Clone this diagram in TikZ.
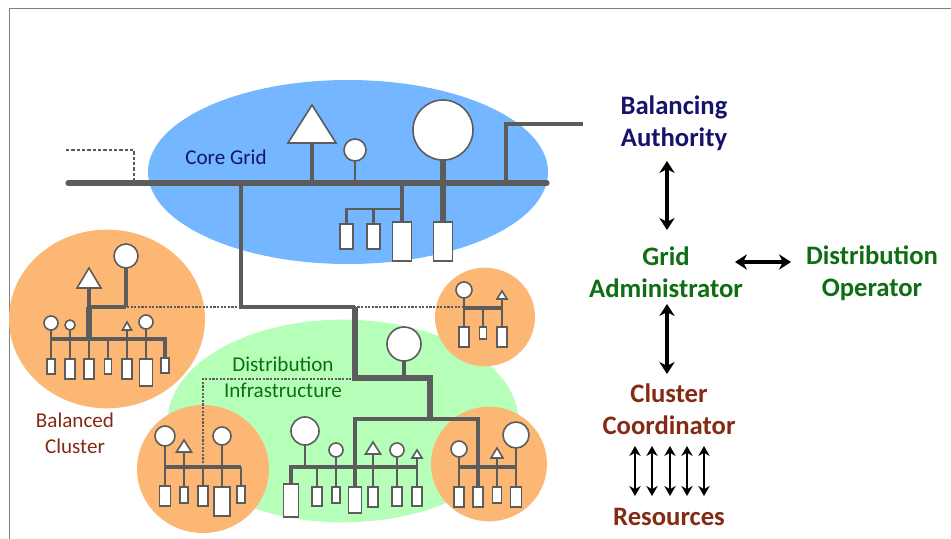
\documentclass[tikz,border=0pt]{standalone}
\usepackage{fontspec}
\setmainfont{Carlito}
\usetikzlibrary{arrows.meta,shapes.geometric}
\definecolor{wire}{HTML}{5C5C5C}
\definecolor{coreblue}{HTML}{74B6FF}
\definecolor{orangeb}{HTML}{FDB775}
\definecolor{greenb}{HTML}{B6FFB8}
\definecolor{navyt}{HTML}{14146E}
\definecolor{greent}{HTML}{0E6E12}
\definecolor{redt}{HTML}{852A14}
\tikzset{
  x=0.75pt,y=-0.75pt,
  blob/.style={ellipse,inner sep=0pt,outer sep=0pt,draw=none},
  gen/.style={circle,draw=wire,fill=white,line width=1.2pt,inner sep=0pt,outer sep=0pt},
  load/.style={rectangle,draw=wire,fill=white,line width=1.4pt,inner sep=0pt,outer sep=0pt,anchor=north},
  tri/.style={draw=wire,fill=white,line width=1.2pt,line join=miter},
  w1/.style={draw=wire,line width=1.6pt},
  w2/.style={draw=wire,line width=2.3pt},
  w3/.style={draw=wire,line width=3.2pt},
  w4/.style={draw=wire,line width=3.8pt},
  w5/.style={draw=wire,line width=4.6pt},
  dots/.style={draw=wire,line width=0.8pt,dash pattern=on 1.6pt off 1.1pt},
  bigarrow/.style={draw=black,line width=2.6pt,{Stealth[length=9pt,width=11.5pt]}-{Stealth[length=9pt,width=11.5pt]}},
  smallarrow/.style={draw=black,line width=1.6pt,{Stealth[length=7.5pt,width=8.5pt]}-{Stealth[length=7.5pt,width=8.5pt]}},
  lab/.style={inner sep=0pt,align=center,font=\fontsize{15.8}{18}\selectfont},
  role/.style={inner sep=0pt,align=center,font=\fontsize{20}{24}\selectfont\bfseries},
}
% name, cx, cy, radius (px)
\newcommand{\Gen}[4]{\node[gen,minimum size=#4*1.5pt] (#1) at (#2,#3) {};}
% name, cx, top, width, height (px)
\newcommand{\Load}[5]{\node[load,minimum width=#4*0.75pt,minimum height=#5*0.75pt] (#1) at (#2,#3) {};}
% name, cx, base y, half width, height (px): coordinate #1 is the middle of the base
\newcommand{\Tri}[5]{\coordinate (#1) at (#2,#3);\draw[tri] ({#2-#4},#3) -- (#2,{#3-#5}) -- ({#2+#4},#3) -- cycle;}
\begin{document}
\begin{tikzpicture}
\useasboundingbox (0,0) rectangle (951,539);
\fill[white] (0,0) rectangle (951,539);
\draw[draw=gray,line width=0.8pt] (951,8.5) -- (9.5,8.5) -- (9.5,539);

% ---- regions
\node[blob,fill=coreblue,minimum width=300pt,minimum height=138pt] (core) at (348,172) {};
\node[blob,fill=greenb,minimum width=263pt,minimum height=152pt] (dist) at (343,421) {};
\node[blob,fill=orangeb,minimum width=147pt,minimum height=134pt] (clA) at (107,319) {};
\node[blob,fill=orangeb,minimum width=75pt,minimum height=74pt] (clB) at (485,317) {};
\node[blob,fill=orangeb,minimum width=99pt,minimum height=96pt] (clC) at (203,469) {};
\node[blob,fill=orangeb,minimum width=87pt,minimum height=86pt] (clD) at (489,464) {};

% ---- free coordinates
\coordinate (busL) at (68,183);
\coordinate (busR) at (547,183);
\coordinate (dashA) at (66,150);
\coordinate (dashB) at (134,150);
\coordinate (dashC) at (134,183);
\coordinate (extA) at (506,183);
\coordinate (extB) at (506,124);
\coordinate (extC) at (583,124);
\coordinate (fA) at (241,183);
\coordinate (fB) at (241,307);
\coordinate (fC) at (355,307);
\coordinate (fD) at (355,378);
\coordinate (fE) at (430,378);
\coordinate (fF) at (430,419);
\coordinate (fG) at (355,419);
\coordinate (fH) at (478,419);
\coordinate (coreBr) at (402,209);
\coordinate (aJ) at (89,307);
\coordinate (aK) at (126,307);
\coordinate (aBusL) at (51,339);
\coordinate (aBusR) at (165,339);
\coordinate (aBusM) at (89,339);
\coordinate (bBusL) at (464,308);
\coordinate (bBusR) at (502,308);
\coordinate (cBusL) at (165,467);
\coordinate (cBusR) at (241,467);
\coordinate (mBusL) at (291,467);
\coordinate (mBusR) at (417,467);
\coordinate (dBusL) at (459,467);
\coordinate (dBusR) at (516,467);
\coordinate (dotA) at (127,307);
\coordinate (dotB) at (464,307);
\coordinate (dotC) at (355,379);
\coordinate (dotD) at (203,379);
\coordinate (dotE) at (203,467);

% ---- core grid devices
\Tri{cT}{312}{143}{24}{38}
\Gen{cG1}{355}{150}{11}
\Gen{cG2}{443}{130}{30}
\Load{cL1}{346.5}{224}{13}{25}
\Load{cL2}{373.5}{224}{13}{25}
\Load{cL3}{402}{222}{19}{39}
\Load{cL4}{443}{222}{19}{39}

% ---- cluster A
\Tri{aT}{89}{288}{12}{20}
\Gen{aG}{126}{256}{12}
\Gen{aG1}{51}{323}{7}
\Gen{aG2}{70}{325}{5}
\Tri{aT2}{127}{330}{4.5}{8}
\Gen{aG3}{146}{322}{7}
\Load{aL1}{51}{359}{8}{15}
\Load{aL2}{70}{359}{10}{20}
\Load{aL3}{89}{359}{10}{20}
\Load{aL4}{108}{359}{7}{15}
\Load{aL5}{127}{359}{10}{20}
\Load{aL6}{146}{359}{13}{27}
\Load{aL7}{165}{358}{8}{15}

% ---- cluster B
\Gen{bG}{464}{290}{8}
\Tri{bT}{502}{299}{5}{8}
\Load{bL1}{464}{327}{10}{20}
\Load{bL2}{483}{327}{7}{12}
\Load{bL3}{502}{327}{10}{20}

% ---- cluster C
\Gen{eG1}{165}{436}{10}
\Tri{eT}{184}{452}{7.5}{12}
\Gen{eG2}{222}{436}{9}
\Load{eL1}{165}{486}{11}{20}
\Load{eL2}{184}{487}{8.5}{16}
\Load{eL3}{203}{486}{10}{20}
\Load{eL4}{222}{487}{16}{29}
\Load{eL5}{241}{486}{8}{17}

% ---- distribution infrastructure
\Gen{dG0}{404}{344}{17}
\Gen{mG1}{305}{431}{14}
\Gen{mG2}{336}{450}{7}
\Tri{mT1}{373}{454}{7.5}{12}
\Gen{mG3}{397}{450}{7}
\Tri{mT2}{417}{458}{5}{8}
\Load{mL1}{291}{484}{15}{33}
\Load{mL2}{317}{487}{10}{19}
\Load{mL3}{336}{487}{8}{16}
\Load{mL4}{355}{487}{13}{26}
\Load{mL5}{373}{487}{10}{20}
\Load{mL6}{397}{487}{10}{19}
\Load{mL7}{417}{487}{10}{19}

% ---- cluster D
\Gen{gG1}{459}{449}{8}
\Tri{gT}{497}{458}{6}{10}
\Gen{gG2}{516}{435}{13}
\Load{gL1}{459}{487}{10}{20}
\Load{gL2}{478}{487}{10}{20}
\Load{gL3}{497}{487}{9}{16}
\Load{gL4}{516}{487}{11}{20}

% ---- dotted and dashed control links
\draw[draw=wire,line width=1pt,dash pattern=on 2.4pt off 1.6pt] (dashA) -- (dashB) -- (dashC);
\draw[dots] (dotA) -- (dotB);
\draw[dots] (dotC) -- (dotD) -- (dotE);

% ---- core grid wiring
\draw[w4,line cap=round] (busL) -- (busR);
\draw[w3] (cT) -- (cT |- busL);
\draw[w1] (cG1.south) -- (cG1 |- busL);
\draw[w4] (cG2.south) -- (cL4.north);
\draw[w3] (cL3 |- busL) -- (cL3.north);
\draw[w1] (cL3 |- coreBr) -- (cL1 |- coreBr) -- (cL1.north);
\draw[w1] (cL2 |- coreBr) -- (cL2.north);
\draw[w2] (extA) -- (extB) -- (extC);

% ---- main feeder
\draw[w3,line join=miter] (fA) -- (fB) -- (fC);
\draw[w4,line join=miter] (fC) -- (fD) -- (fE) -- (fF);
\draw[w2] (dG0.south) -- (dG0 |- fD);
\draw[w3,line join=miter] (mL4.north) -- (fG) -- (fH) -- (gL2.north);

% ---- cluster A wiring
\draw[w2] (aT) -- (aJ);
\draw[w2] (aG.south) -- (aK);
\draw[w3] (aK) -- (aJ);
\draw[w5] (aJ) -- (aBusM);
\draw[w2,line join=miter] (aBusL) -- (aBusR) -- (aL7.north);
\foreach \g/\l in {aG1/aL1,aG2/aL2,aT2/aL5,aG3/aL6}{\draw[w1] (\g) -- (\l.north);}
\draw[w1] (aBusM) -- (aL3.north);
\draw[w1] (aL4 |- aBusL) -- (aL4.north);

% ---- cluster B wiring
\draw[w2] (bBusL) -- (bBusR);
\foreach \g/\l in {bG/bL1,bT/bL3}{\draw[w1] (\g) -- (\l.north);}
\draw[w1] (bL2 |- bBusL) -- (bL2.north);

% ---- cluster C wiring
\draw[w2] (cBusL) -- (cBusR);
\foreach \g/\l in {eG1/eL1,eT/eL2,eG2/eL4}{\draw[w1] (\g) -- (\l.north);}
\draw[w1] (eL3 |- cBusL) -- (eL3.north);
\draw[w1] (cBusR) -- (eL5.north);

% ---- distribution bus wiring
\draw[w2,line join=miter] (mL1.north) -- (mBusL) -- (mBusR);
\foreach \g/\l in {mG2/mL3,mT1/mL5,mG3/mL6,mT2/mL7}{\draw[w1] (\g) -- (\l.north);}
\draw[w1] (mG1.south) -- (mG1 |- mBusL);
\draw[w1] (mL2 |- mBusL) -- (mL2.north);

% ---- cluster D wiring
\draw[w2] (dBusL) -- (dBusR);
\foreach \g/\l in {gG1/gL1,gT/gL3,gG2/gL4}{\draw[w1] (\g) -- (\l.north);}

% ---- region labels
\node[lab,text=navyt] (tCore) at (226,157) {Core Grid};
\node[lab,text=greent] (tDist) at (283,377) {Distribution\\[1.5pt]Infrastructure};
\node[lab,text=redt] (tBal) at (75,433) {Balanced\\[1.5pt]Cluster};

% ---- roles
\node[role,text=navyt] (rBA) at (674,123) {Balancing\\Authority};
\node[role,text=greent] (rGA) at (666,272) {Grid\\Administrator};
\node[role,text=greent] (rDO) at (872,273) {Distribution\\Operator};
\node[role,text=redt] (rCC) at (669,409) {Cluster\\Coordinator};
\node[role,text=redt] (rRes) at (669,517) {Resources};

\coordinate (a1t) at (667,161);
\coordinate (a1b) at (667,230);
\coordinate (a2l) at (735,262);
\coordinate (a2r) at (791,262);
\coordinate (a3t) at (667,304);
\coordinate (a3b) at (667,374);
\draw[bigarrow] (a1t) -- (a1b);
\draw[bigarrow] (a2l) -- (a2r);
\draw[bigarrow] (a3t) -- (a3b);
\foreach \i/\x in {1/635,2/652,3/670,4/687,5/704}{
  \coordinate (up\i) at (\x,446);
  \coordinate (dn\i) at (\x,496);
  \draw[smallarrow] (up\i) -- (dn\i);
}
\end{tikzpicture}
\end{document}
